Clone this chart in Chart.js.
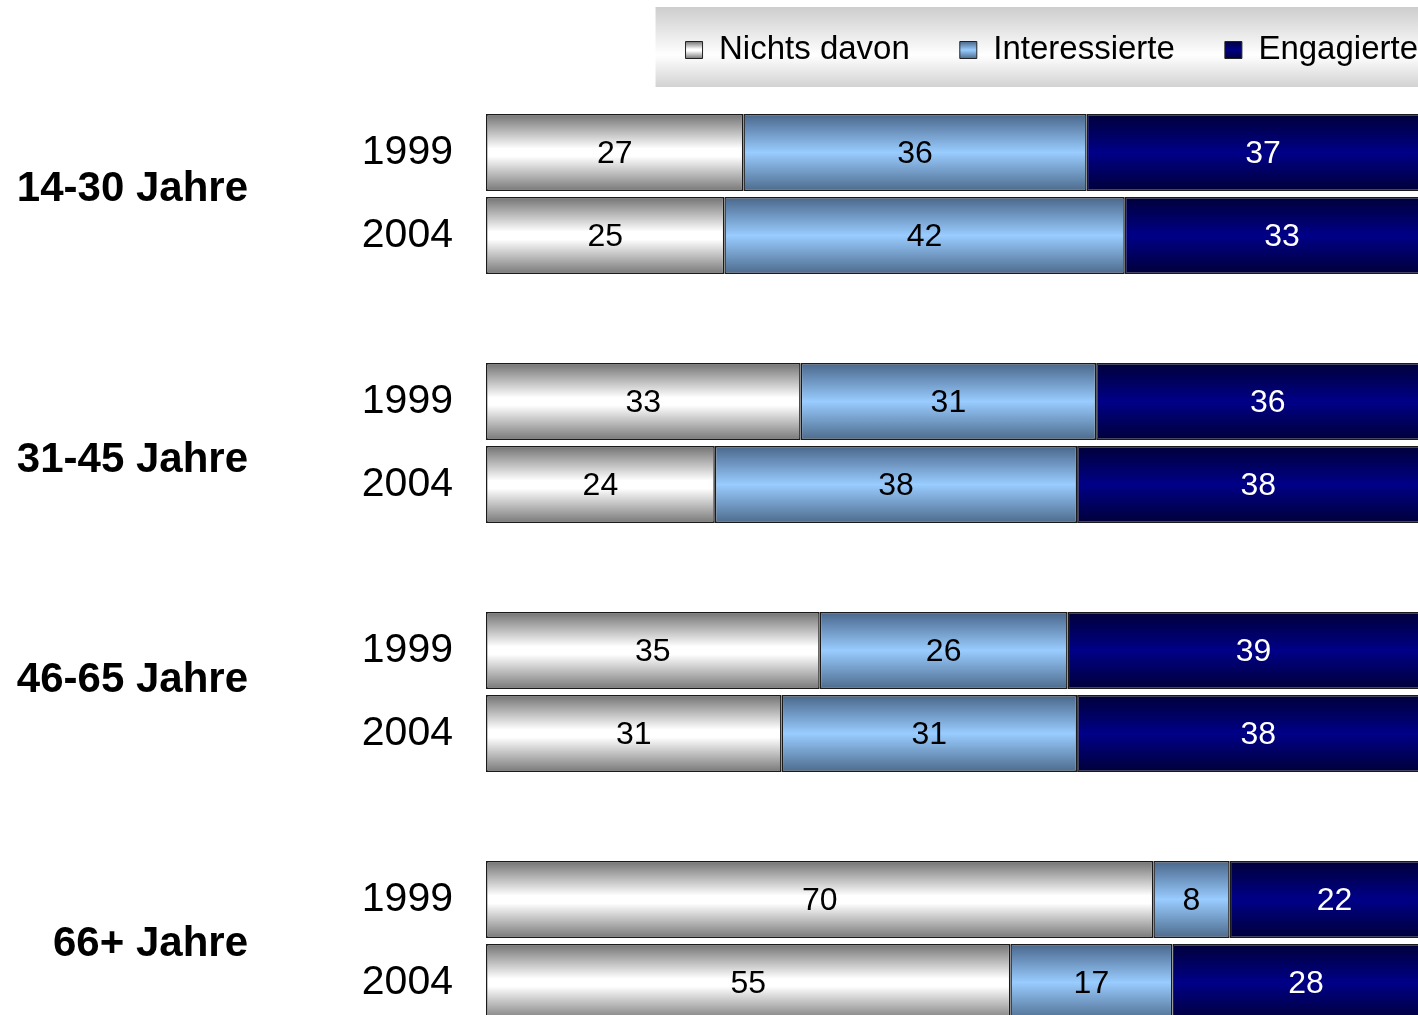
<!DOCTYPE html>
<html>
<head>
<meta charset="utf-8">
<script src="https://cdn.jsdelivr.net/npm/chart.js@4.4.1/dist/chart.umd.min.js"></script>
<style>
  html, body { margin: 0; padding: 0; overflow: hidden; background: #fff; }
  #wrap { width: 1468px; height: 1030px; }
</style>
</head>
<body>
<div id="wrap"><canvas id="chart" width="1468" height="1030"></canvas></div>
<script>
// Data (percent per age group and survey year)
const groups = ['14-30 Jahre', '31-45 Jahre', '46-65 Jahre', '66+ Jahre'];
const years = ['1999', '2004'];
const nichtsDavon = [27, 25, 33, 24, 35, 31, 70, 55];
const interessierte = [36, 42, 31, 38, 26, 31, 8, 17];
const engagierte = [37, 33, 36, 38, 39, 38, 22, 28];
const seriesNames = ['Nichts davon', 'Interessierte', 'Engagierte'];

const FONT = '"Liberation Sans", Arial, Helvetica, sans-serif';
const BAR_PCT = 0.928;
const groupLabelRight = 248;
const groupLabelShift = [-5, 17, -12, 3];

// one empty row between groups
const rowLabels = [];
groups.forEach((g, gi) => {
    years.forEach(y => rowLabels.push(y));
    if (gi < groups.length - 1) rowLabels.push('');
});

function spread(values) {
    const out = [];
    groups.forEach((g, gi) => {
        years.forEach((y, yi) => out.push(values[gi * years.length + yi]));
        if (gi < groups.length - 1) out.push(null);
    });
    return out;
}

const grayStops = [[0, '#727272'], [0.45, '#ffffff'], [0.55, '#ffffff'], [1, '#787878']];
const blueStops = [[0, '#49668a'], [0.5, '#99ccff'], [1, '#4d6b8c']];
const navyStops = [[0, '#00003a'], [0.5, '#000088'], [1, '#00003a']];
const labelColors = ['#000', '#000', '#fff'];

function gradient(ctx, top, bottom, stops) {
    const g = ctx.createLinearGradient(0, top, 0, bottom);
    stops.forEach(([o, c]) => g.addColorStop(o, c));
    return g;
}

function barFill(stops) {
    const fallback = stops[Math.floor(stops.length / 2)][1];
    return (c) => {
        const chart = c.chart;
        const ys = chart.scales.y;
        if (!chart.chartArea || c.type !== 'data' || !ys) return fallback;
        const mid = ys.getPixelForValue(c.dataIndex);
        const pitch = ys.getPixelForValue(1) - ys.getPixelForValue(0);
        if (!Number.isFinite(mid) || !Number.isFinite(pitch)) return fallback;
        const half = pitch * BAR_PCT / 2;
        return gradient(chart.ctx, mid - half, mid + half, stops);
    };
}

// grey legend panel + gradient swatches
const legendPanel = {
    id: 'legendPanel',
    beforeDraw(chart) {
        const lg = chart.legend;
        if (!lg || !lg.legendHitBoxes.length) return;
        const ctx = chart.ctx;
        const hb0 = lg.legendHitBoxes[0];
        const cy = hb0.top + hb0.height / 2;
        const x0 = hb0.left - 30;
        ctx.save();
        ctx.fillStyle = gradient(ctx, cy - 43, cy + 37, [[0, '#cdcdcd'], [0.6, '#ffffff'], [1, '#d2d2d2']]);
        ctx.fillRect(x0, cy - 43, chart.width - x0, 80);
        ctx.restore();
        const allStops = [grayStops, blueStops, navyStops];
        lg.legendItems.forEach((item, i) => {
            const hb = lg.legendHitBoxes[i];
            const top = hb.top + (hb.height - 17) / 2;
            item.fillStyle = gradient(ctx, top, top + 17, allStops[i]);
            item.strokeStyle = '#222';
            item.lineWidth = 1;
        });
    }
};

const valueLabels = {
    id: 'valueLabels',
    afterDatasetsDraw(chart) {
        const ctx = chart.ctx;
        ctx.save();
        ctx.font = '32px ' + FONT;
        ctx.textAlign = 'center';
        ctx.textBaseline = 'middle';
        chart.data.datasets.forEach((ds, di) => {
            chart.getDatasetMeta(di).data.forEach((bar, i) => {
                if (ds.data[i] == null) return;
                ctx.fillStyle = labelColors[di];
                ctx.fillText(String(ds.data[i]), (bar.x + bar.base) / 2, bar.y + 2);
            });
        });
        ctx.restore();
    }
};

const groupLabels = {
    id: 'groupLabels',
    afterDraw(chart) {
        const ctx = chart.ctx;
        const ys = chart.scales.y;
        ctx.save();
        ctx.font = 'bold 42px ' + FONT;
        ctx.fillStyle = '#000';
        ctx.textAlign = 'right';
        ctx.textBaseline = 'middle';
        groups.forEach((g, gi) => {
            const first = gi * (years.length + 1);
            const y = (ys.getPixelForValue(first) + ys.getPixelForValue(first + years.length - 1)) / 2;
            ctx.fillText(g, groupLabelRight, y + groupLabelShift[gi]);
        });
        ctx.restore();
    }
};

Chart.defaults.font.family = FONT;
Chart.defaults.color = '#000';

const ctx = document.getElementById('chart').getContext('2d');
new Chart(ctx, {
    type: 'bar',
    data: {
        labels: rowLabels,
        datasets: [
            { label: seriesNames[0], data: spread(nichtsDavon), backgroundColor: barFill(grayStops) },
            { label: seriesNames[1], data: spread(interessierte), backgroundColor: barFill(blueStops) },
            { label: seriesNames[2], data: spread(engagierte), backgroundColor: barFill(navyStops) }
        ].map(d => Object.assign(d, {
            borderColor: '#1a1a1a',
            borderWidth: 1.5,
            borderSkipped: false,
            categoryPercentage: 1,
            barPercentage: BAR_PCT
        }))
    },
    options: {
        indexAxis: 'y',
        responsive: false,
        animation: false,
        layout: { padding: { top: -16.5, right: 0, bottom: 6, left: 0 } },
        plugins: {
            legend: {
                position: 'top',
                align: 'end',
                labels: {
                    boxWidth: 17,
                    boxHeight: 17,
                    padding: 50,
                    font: { size: 33 },
                    color: '#000'
                }
            },
            tooltip: { enabled: false }
        },
        scales: {
            x: {
                position: 'top',
                stacked: true,
                min: 0,
                max: 103,
                grid: { display: false, drawTicks: false },
                border: { display: false },
                ticks: { display: false },
                afterFit: s => { s.height = 34.5; }
            },
            y: {
                stacked: true,
                grid: { display: false, drawTicks: false },
                border: { display: false },
                ticks: {
                    autoSkip: false,
                    padding: 33,
                    font: { size: 41 },
                    color: '#000'
                },
                afterFit: s => {
                    s.width = 486;
                    s.paddingTop = 0;
                    s.paddingBottom = 0;
                }
            }
        }
    },
    plugins: [legendPanel, valueLabels, groupLabels]
});
</script>
</body>
</html>
